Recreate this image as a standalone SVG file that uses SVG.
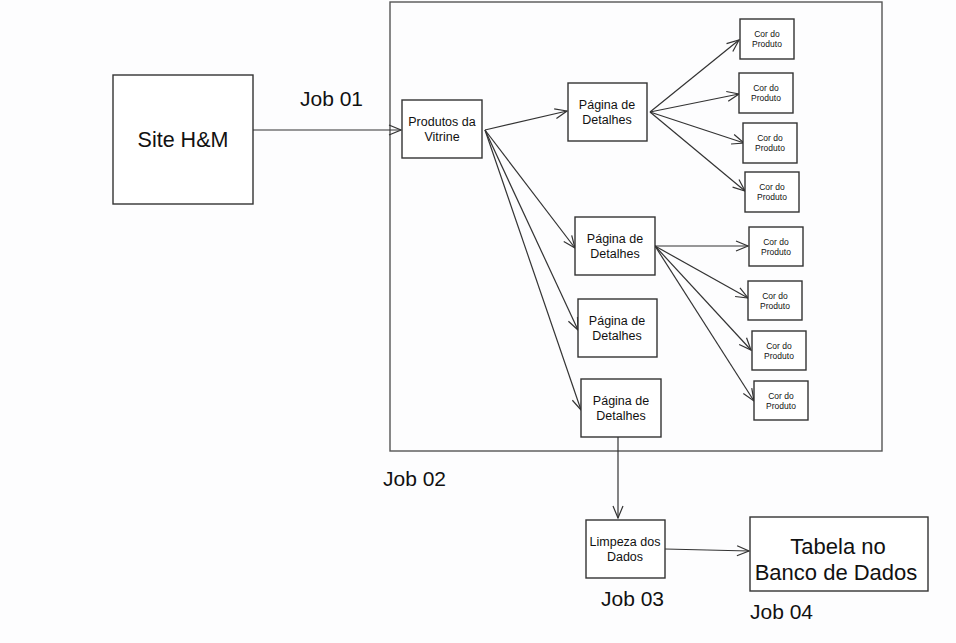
<svg xmlns="http://www.w3.org/2000/svg" width="956" height="643" viewBox="0 0 956 643">
<style>
.box{fill:#fff;stroke:#333;stroke-width:1.4}
.frame{fill:none;stroke:#555;stroke-width:1.4}
.c{fill:none;stroke:#333;stroke-width:1.2;marker-end:url(#ah)}
text{font-family:"Liberation Sans",Arial,sans-serif;fill:#111;text-anchor:middle}
.lbl{text-anchor:start;font-size:21px}
.pg{font-size:12.5px}
.cor{font-size:8.5px}
</style>
<defs>
<marker id="ah" viewBox="0 0 14 12" refX="13" refY="6" markerWidth="14" markerHeight="12" markerUnits="userSpaceOnUse" orient="auto">
<path d="M1,1 L13,6 L1,11" fill="none" stroke="#333" stroke-width="1.2"/>
</marker>
</defs>
<rect width="956" height="643" fill="#fdfdfe"/>
<rect id="container" class="frame" x="390" y="2" width="492" height="449"/>

<g id="connectors">
<path class="c" d="M253,130 L401,130"/>
<path class="c" d="M485,130 L567,111"/>
<path class="c" d="M485,130 L575,248"/>
<path class="c" d="M485,130 L578,330"/>
<path class="c" d="M485,130 L581,410"/>
<path class="c" d="M650,112 L739,40"/>
<path class="c" d="M650,112 L739,94"/>
<path class="c" d="M650,112 L744,143"/>
<path class="c" d="M650,112 L745,191"/>
<path class="c" d="M655,246 L748,246"/>
<path class="c" d="M655,246 L748,298"/>
<path class="c" d="M655,246 L751,350"/>
<path class="c" d="M655,246 L754,401"/>
<path class="c" d="M618,437 L618,518"/>
<path class="c" d="M665,549 L749,551"/>
</g>

<g id="site"><rect class="box" x="113" y="75" width="140" height="129"/><text x="183" y="147" font-size="21.5">Site H&amp;M</text></g>
<g id="produtos"><rect class="box" x="402" y="100" width="80" height="58"/><text class="pg" x="442" y="126" font-size="12">Produtos da</text><text class="pg" x="442" y="141" font-size="12">Vitrine</text></g>
<g id="pagina1"><rect class="box" x="568" y="83" width="79" height="58"/><text class="pg" x="607" y="109">Página de</text><text class="pg" x="607" y="124">Detalhes</text></g>
<g id="pagina2"><rect class="box" x="575" y="217" width="80" height="58"/><text class="pg" x="615" y="243">Página de</text><text class="pg" x="615" y="258">Detalhes</text></g>
<g id="pagina3"><rect class="box" x="578" y="299" width="79" height="58"/><text class="pg" x="617" y="325">Página de</text><text class="pg" x="617" y="340">Detalhes</text></g>
<g id="pagina4"><rect class="box" x="581" y="379" width="80" height="58"/><text class="pg" x="621" y="405">Página de</text><text class="pg" x="621" y="420">Detalhes</text></g>

<g id="cor1"><rect class="box" x="740" y="19" width="54" height="40"/><text class="cor" x="767" y="37">Cor do</text><text class="cor" x="767" y="47">Produto</text></g>
<g id="cor2"><rect class="box" x="739" y="73" width="54" height="40"/><text class="cor" x="766" y="91">Cor do</text><text class="cor" x="766" y="101">Produto</text></g>
<g id="cor3"><rect class="box" x="743" y="123" width="54" height="40"/><text class="cor" x="770" y="141">Cor do</text><text class="cor" x="770" y="151">Produto</text></g>
<g id="cor4"><rect class="box" x="745" y="172" width="54" height="40"/><text class="cor" x="772" y="190">Cor do</text><text class="cor" x="772" y="200">Produto</text></g>
<g id="cor5"><rect class="box" x="749" y="227" width="54" height="39"/><text class="cor" x="776" y="245">Cor do</text><text class="cor" x="776" y="255">Produto</text></g>
<g id="cor6"><rect class="box" x="748" y="281" width="54" height="39"/><text class="cor" x="775" y="299">Cor do</text><text class="cor" x="775" y="309">Produto</text></g>
<g id="cor7"><rect class="box" x="752" y="331" width="54" height="39"/><text class="cor" x="779" y="349">Cor do</text><text class="cor" x="779" y="359">Produto</text></g>
<g id="cor8"><rect class="box" x="754" y="381" width="54" height="39"/><text class="cor" x="781" y="399">Cor do</text><text class="cor" x="781" y="409">Produto</text></g>

<g id="limpeza"><rect class="box" x="586" y="520" width="79" height="58"/><text x="625" y="546" font-size="12.5">Limpeza dos</text><text x="625" y="561" font-size="12.5">Dados</text></g>
<g id="tabela"><rect class="box" x="750" y="517" width="178" height="74"/><text x="838" y="554" font-size="22">Tabela no</text><text x="836" y="580" font-size="22">Banco de Dados</text></g>

<g id="labels">
<text class="lbl" x="300" y="106">Job 01</text>
<text class="lbl" x="383" y="486">Job 02</text>
<text class="lbl" x="601" y="606">Job 03</text>
<text class="lbl" x="750" y="619">Job 04</text>
</g>
</svg>
